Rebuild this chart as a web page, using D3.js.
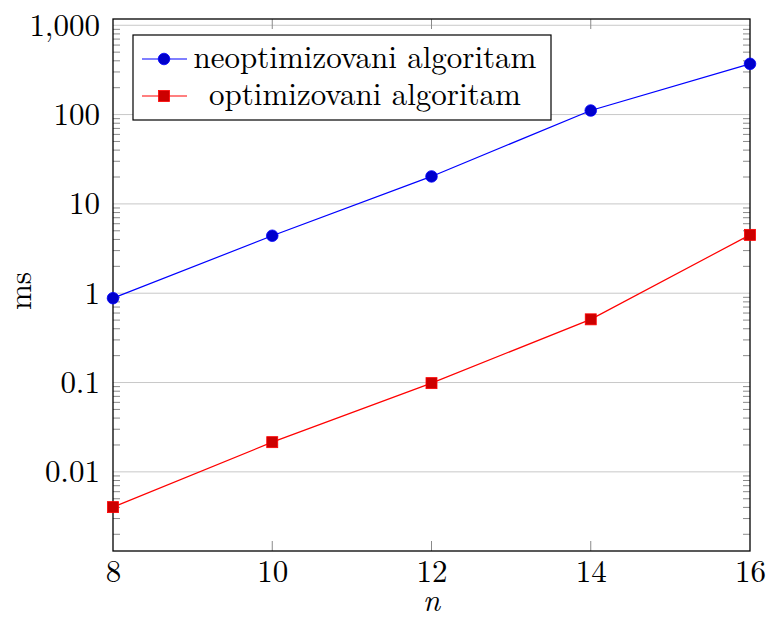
<!DOCTYPE html>
<html>
<head>
<meta charset="utf-8">
<script src="https://cdn.jsdelivr.net/npm/d3@7"></script>
<style>
  body { margin: 0; background: #fff; }
</style>
</head>
<body>
<div id="chart"></div>
<script>
// data
const nValues = [8, 10, 12, 14, 16];
const neoptimizovani = [0.88, 4.4, 20.3, 111, 370];
const optimizovani = [0.00403, 0.0215, 0.0985, 0.51, 4.5];
const seriesNames = ["neoptimizovani algoritam", "optimizovani algoritam"];
const yTickValues = [0.01, 0.1, 1, 10, 100, 1000];
const yTickLabels = ["0.01", "0.1", "1", "10", "100", "1,000"];

const FONT = '"Latin Modern Roman", "CMU Serif", "Liberation Serif", serif';
const FS = "31px";

const W = 769, H = 619;
const margin = {top: 19, right: 19, bottom: 68, left: 113};
const width = W - margin.left - margin.right,
      height = H - margin.top - margin.bottom;

const svg = d3.select("#chart")
  .append("svg")
  .attr("width", W)
  .attr("height", H);

const g = svg.append("g")
  .attr("transform", `translate(${margin.left},${margin.top})`);

const x = d3.scaleLinear()
  .domain([8, 16])
  .range([0, width]);

const y = d3.scaleLog()
  .domain([0.0013, 1175])
  .range([height, 0]);

// horizontal grid at every decade
g.append("g")
  .selectAll("line")
  .data(yTickValues)
  .join("line")
  .attr("x1", 0).attr("x2", width)
  .attr("y1", d => y(d)).attr("y2", d => y(d))
  .attr("stroke", "#c8c8c8")
  .attr("stroke-width", 1);

// minor log ticks, inside on both sides
const minor = [];
for (let e = -3; e <= 3; e++) {
  for (let k = 2; k <= 9; k++) {
    const v = k * Math.pow(10, e);
    if (v > y.domain()[0] && v < y.domain()[1]) minor.push(v);
  }
}
[0, width].forEach(function(side) {
  const dir = side === 0 ? 1 : -1;
  g.append("g")
    .selectAll("line")
    .data(minor)
    .join("line")
    .attr("x1", side).attr("x2", side + dir * 7)
    .attr("y1", d => y(d)).attr("y2", d => y(d))
    .attr("stroke", "#8a8a8a")
    .attr("stroke-width", 1);
});

// x ticks, inside at top and bottom
[0, height].forEach(function(side) {
  const dir = side === 0 ? 1 : -1;
  g.append("g")
    .selectAll("line")
    .data(nValues.slice(1, -1))
    .join("line")
    .attr("x1", d => x(d)).attr("x2", d => x(d))
    .attr("y1", side).attr("y2", side + dir * 10)
    .attr("stroke", "#8a8a8a")
    .attr("stroke-width", 1);
});

// frame
g.append("rect")
  .attr("width", width)
  .attr("height", height)
  .attr("fill", "none")
  .attr("stroke", "#000")
  .attr("stroke-width", 1.3);

// axis labels via d3 axes (lines hidden)
const yAxis = g.append("g")
  .call(d3.axisLeft(y).tickValues(yTickValues)
    .tickFormat((d, i) => yTickLabels[i]).tickSize(0).tickPadding(13));
yAxis.select(".domain").remove();
yAxis.selectAll("text")
  .style("font-family", FONT)
  .style("font-size", FS)
  .attr("fill", "#000");

const xAxis = g.append("g")
  .attr("transform", `translate(0,${height})`)
  .call(d3.axisBottom(x).tickValues(nValues).tickSize(0).tickPadding(9));
xAxis.select(".domain").remove();
xAxis.selectAll("text")
  .style("font-family", FONT)
  .style("font-size", FS)
  .attr("fill", "#000");

svg.append("text")
  .attr("x", margin.left + width / 2)
  .attr("y", 611)
  .attr("text-anchor", "middle")
  .style("font-family", FONT)
  .style("font-size", FS)
  .style("font-style", "italic")
  .text("n");

svg.append("text")
  .attr("transform", "translate(31,291) rotate(-90)")
  .attr("text-anchor", "middle")
  .style("font-family", FONT)
  .style("font-size", FS)
  .text("ms");

// series
const line = d3.line()
  .x((d, i) => x(nValues[i]))
  .y(d => y(d));

g.append("path")
  .datum(neoptimizovani)
  .attr("d", line)
  .attr("fill", "none")
  .attr("stroke", "#0000ff")
  .attr("stroke-width", 1.2);

g.append("path")
  .datum(optimizovani)
  .attr("d", line)
  .attr("fill", "none")
  .attr("stroke", "#ff0000")
  .attr("stroke-width", 1.2);

g.selectAll("circle.pt")
  .data(neoptimizovani)
  .join("circle")
  .attr("class", "pt")
  .attr("cx", (d, i) => x(nValues[i]))
  .attr("cy", d => y(d))
  .attr("r", 5.8)
  .attr("fill", "#0000cc")
  .attr("stroke", "#0000ff")
  .attr("stroke-width", 0.8);

g.selectAll("rect.pt")
  .data(optimizovani)
  .join("rect")
  .attr("class", "pt")
  .attr("x", (d, i) => x(nValues[i]) - 5.5)
  .attr("y", d => y(d) - 5.5)
  .attr("width", 11)
  .attr("height", 11)
  .attr("fill", "#cc0000")
  .attr("stroke", "#ff0000")
  .attr("stroke-width", 0.8);

// legend
const legend = svg.append("g");
legend.append("rect")
  .attr("x", 133).attr("y", 35)
  .attr("width", 418).attr("height", 85)
  .attr("fill", "#fff")
  .attr("stroke", "#000")
  .attr("stroke-width", 1.2);

const rows = [
  {name: seriesNames[0], color: "#0000ff", fill: "#0000cc", shape: "circle", y: 59},
  {name: seriesNames[1], color: "#ff0000", fill: "#cc0000", shape: "square", y: 96}
];
rows.forEach(function(r) {
  legend.append("line")
    .attr("x1", 142).attr("x2", 187)
    .attr("y1", r.y).attr("y2", r.y)
    .attr("stroke", r.color)
    .attr("stroke-width", 1.2);
  if (r.shape === "circle") {
    legend.append("circle")
      .attr("cx", 164).attr("cy", r.y).attr("r", 5.8)
      .attr("fill", r.fill).attr("stroke", r.color).attr("stroke-width", 0.8);
  } else {
    legend.append("rect")
      .attr("x", 158.5).attr("y", r.y - 5.5).attr("width", 11).attr("height", 11)
      .attr("fill", r.fill).attr("stroke", r.color).attr("stroke-width", 0.8);
  }
  legend.append("text")
    .attr("x", 365).attr("y", r.y + 9)
    .attr("text-anchor", "middle")
    .style("font-family", FONT)
    .style("font-size", FS)
    .text(r.name);
});
</script>
</body>
</html>
